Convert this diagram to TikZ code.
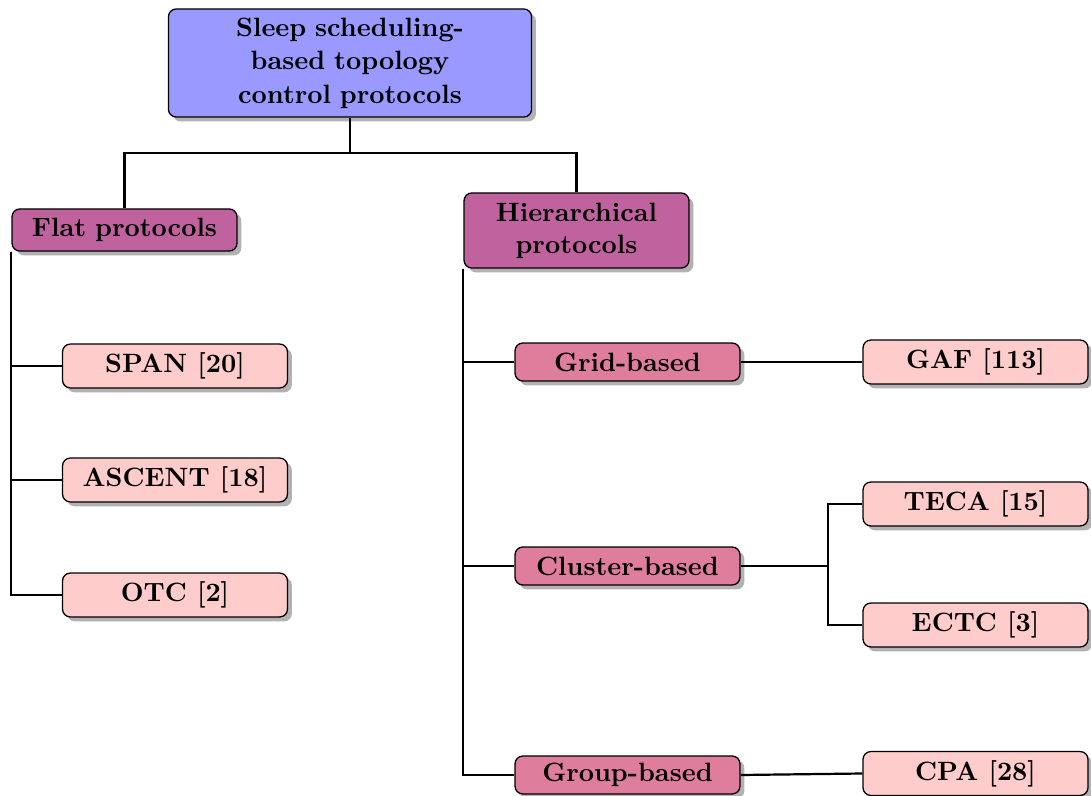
\documentclass[tikz,border=0pt]{standalone}
\usetikzlibrary{shadows}
\definecolor{rootblue}{RGB}{153,153,255}
\definecolor{groupmag}{RGB}{192,98,158}
\definecolor{subpink}{RGB}{222,126,156}
\definecolor{leafpink}{RGB}{255,204,204}
\begin{document}
\begin{tikzpicture}[x=0.385pt,y=-0.385pt,
  box/.style={draw, line width=0.5pt, rounded corners=3pt,
    font=\fontsize{10.2}{12.3}\selectfont\bfseries,
    align=center, inner sep=2pt,
    drop shadow={shadow xshift=1.7pt, shadow yshift=-1.7pt, fill=black!30, opacity=1}},
  rootbox/.style={box, fill=rootblue, minimum width=139.8pt, minimum height=41.6pt,
    text width=125pt, font=\fontsize{10.2}{12.9}\selectfont\bfseries},
  groupbox/.style={box, fill=groupmag, minimum width=86.6pt, text width=80pt},
  subbox/.style={box, fill=subpink, minimum width=86.6pt, minimum height=14.6pt},
  leafbox/.style={box, fill=leafpink, minimum width=86.6pt, minimum height=16.9pt},
  link/.style={line width=0.85pt}]
\useasboundingbox (0,0) rectangle (1091,796);

% tree nodes
\node[rootbox] (root) at (350,63) {Sleep scheduling-\\based topology\\control protocols};
\node[groupbox, minimum height=16.2pt] (flat) at (124.5,230) {Flat protocols};
\node[groupbox, minimum height=28.9pt] (hier) at (576.5,230.5) {Hierarchical\\protocols};

\node[leafbox] (span) at (175,366) {SPAN [20]};
\node[leafbox] (ascent) at (175,480) {ASCENT [18]};
\node[leafbox] (otc) at (175,595) {OTC [2]};

\node[subbox] (grid) at (627.5,362) {Grid-based};
\node[subbox] (cluster) at (627.5,566) {Cluster-based};
\node[subbox] (group) at (627.5,775) {Group-based};

\node[leafbox] (gaf) at (975.5,362) {GAF [113]};
\node[leafbox] (teca) at (975.5,504) {TECA [15]};
\node[leafbox] (ectc) at (975.5,625) {ECTC [3]};
\node[leafbox] (cpa) at (975.5,773.5) {CPA [28]};

% connectors
\coordinate (bus) at (350,153);
\draw[link] (root.south) -- (bus) -| (flat.north);
\draw[link] (bus) -| (hier.north);

\draw[link] (flat.south west) |- (span.west);
\draw[link] (flat.south west) |- (ascent.west);
\draw[link] (flat.south west) |- (otc.west);

\draw[link] (hier.south west) |- (grid.west);
\draw[link] (hier.south west) |- (cluster.west);
\draw[link] (hier.south west) |- (group.west);

\draw[link] (grid.east) -- (gaf.west);
\coordinate (cj) at (828,566);
\draw[link] (cluster.east) -- (cj);
\draw[link] (cj) |- (teca.west);
\draw[link] (cj) |- (ectc.west);
\draw[link] (group.east) -- (cpa.west);
\end{tikzpicture}
\end{document}
